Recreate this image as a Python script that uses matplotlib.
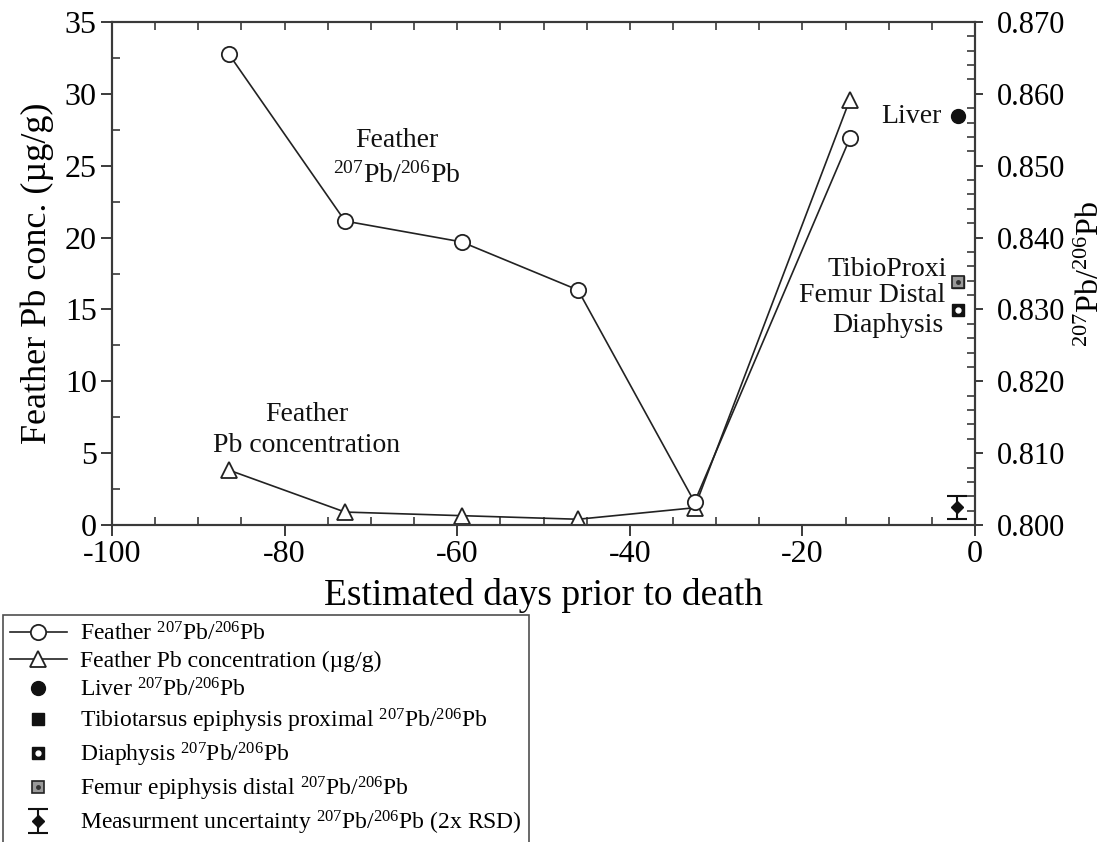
import matplotlib
matplotlib.use("Agg")
import matplotlib.pyplot as plt
from matplotlib.ticker import MultipleLocator, FormatStrFormatter
from matplotlib.legend_handler import HandlerTuple

plt.rcParams['font.family'] = ['Liberation Serif', 'DejaVu Serif']
plt.rcParams['mathtext.fontset'] = 'custom'
plt.rcParams['mathtext.rm'] = 'Liberation Serif'
plt.rcParams['mathtext.it'] = 'Liberation Serif:italic'
plt.rcParams['mathtext.bf'] = 'Liberation Serif:bold'
plt.rcParams['axes.unicode_minus'] = False

# ---- data ----
days = [-86.5, -73, -59.5, -46, -32.5, -14.5]
feather_ratio = [0.8656, 0.8423, 0.8394, 0.8327, 0.8032, 0.8538]
feather_conc = [3.83, 0.9, 0.65, 0.4, 1.2, 29.6]

tissue_day = -2.0
liver_ratio = 0.8569
tibio_ratio = 0.8338
femur_ratio = 0.8338
diaphysis_ratio = 0.8299
unc_day = -2.1
unc_ratio = 0.8025
unc_err = 0.0016

ISO = r"$^{207}$Pb/$^{206}$Pb"

W, H = 1108, 842
fig = plt.figure(figsize=(W / 100, H / 100), dpi=100)
ax = fig.add_axes([112 / W, 1 - 525 / H, (975 - 112) / W, (525 - 22) / H])
ax2 = ax.twinx()

spine_c = '#3a3a3a'
for a in (ax, ax2):
    for s in a.spines.values():
        s.set_linewidth(1.5)
        s.set_color(spine_c)

# left axis
ax.set_xlim(-100, 0)
ax.set_ylim(0, 35)
ax.xaxis.set_major_locator(MultipleLocator(20))
ax.xaxis.set_minor_locator(MultipleLocator(5))
ax.yaxis.set_major_locator(MultipleLocator(5))
ax.yaxis.set_minor_locator(MultipleLocator(2.5))
ax.tick_params(axis='both', which='major', direction='out', length=8, width=1.4,
               color=spine_c, labelsize=23, pad=3)
ax.tick_params(axis='both', which='minor', direction='in', length=6, width=1.2,
               color=spine_c)
ax.tick_params(axis='x', top=False, which='both')
ax.tick_params(axis='y', right=False, which='both')

# top ticks inward
sec = ax.secondary_xaxis('top')
sec.xaxis.set_major_locator(MultipleLocator(5))
sec.tick_params(direction='in', length=6, width=1.2, color=spine_c, labeltop=False)
sec.spines['top'].set_visible(False)

# right axis
ax2.set_ylim(0.800, 0.870)
ax2.yaxis.set_major_locator(MultipleLocator(0.010))
ax2.yaxis.set_minor_locator(MultipleLocator(0.002))
ax2.yaxis.set_major_formatter(FormatStrFormatter('%.3f'))
ax2.tick_params(axis='y', which='major', direction='out', length=6, width=1.4,
                color=spine_c, labelsize=22, pad=10)
ax2.tick_params(axis='y', which='minor', direction='in', length=6, width=1.2,
                color=spine_c)

ax.set_xlabel('Estimated days prior to death', fontsize=27, labelpad=6)
ax.set_ylabel('Feather Pb conc. (µg/g)', fontsize=26, labelpad=8)
ax2.set_ylabel(ISO, fontsize=23, labelpad=8)

lw = 1.2
l_ratio, = ax2.plot(days, feather_ratio, '-', color='#222222', lw=lw, marker='o', ms=11,
                    mfc='white', mec='#222222', mew=1.3, zorder=4)
l_conc, = ax.plot(days, feather_conc, '-', color='#222222', lw=lw, marker='^', ms=12,
                  mfc='white', mec='#222222', mew=1.3, zorder=4)

liver, = ax2.plot([tissue_day], [liver_ratio], 'o', color='#111111', ms=10, ls='none')
tibio, = ax2.plot([tissue_day], [tibio_ratio], 's', color='#111111', ms=9, ls='none')
femur_sq, = ax2.plot([tissue_day], [femur_ratio], 's', mfc='#9a9a9a', mec='#222222', mew=1.2,
                     ms=9, ls='none')
femur_dot, = ax2.plot([tissue_day], [femur_ratio], 'o', color='#333333', ms=2.5, ls='none')
dia_sq, = ax2.plot([tissue_day], [diaphysis_ratio], 's', color='#111111', ms=9, ls='none')
dia_dot, = ax2.plot([tissue_day], [diaphysis_ratio], 'o', color='white', ms=3.5, ls='none')
unc = ax2.errorbar([unc_day], [unc_ratio], yerr=[unc_err], fmt='D', color='#111111', ms=6,
                   capsize=7, elinewidth=1.5, capthick=1.5)

# annotations
tkw = dict(fontsize=20, color='#111111')
ax.text(-67.0, 25.5, 'Feather\n' + ISO, ha='center', va='center', linespacing=1.45, **tkw)
ax.text(-77.4, 6.6, 'Feather\nPb concentration', ha='center', va='center', linespacing=1.35, **tkw)
ax.text(-3.9, 28.45, 'Liver', ha='right', va='center', **tkw)
ax.text(-3.2, 17.75, 'TibioProxi', ha='right', va='center', **tkw)
ax.text(-3.4, 15.95, 'Femur Distal', ha='right', va='center', **tkw)
ax.text(-3.6, 13.9, 'Diaphysis', ha='right', va='center', **tkw)

# legend
handles = [l_ratio, l_conc, liver, tibio, (dia_sq, dia_dot), (femur_sq, femur_dot), unc]
labels = ['Feather ' + ISO,
          'Feather Pb concentration (µg/g)',
          'Liver ' + ISO,
          'Tibiotarsus epiphysis proximal ' + ISO,
          'Diaphysis ' + ISO,
          'Femur epiphysis distal ' + ISO,
          'Measurment uncertainty ' + ISO + ' (2x RSD)']
leg = fig.legend(handles, labels, loc='upper left', bbox_to_anchor=(3 / W, 1 - 615 / H),
                 bbox_transform=fig.transFigure, fontsize=17, frameon=True, fancybox=False,
                 edgecolor='#222222', borderpad=0.3, labelspacing=0.24, handlelength=2.4,
                 handletextpad=0.55, borderaxespad=0,
                 handler_map={tuple: HandlerTuple(ndivide=1, pad=0)})
leg.get_frame().set_linewidth(1.2)

fig.savefig('out.png', dpi=100)
